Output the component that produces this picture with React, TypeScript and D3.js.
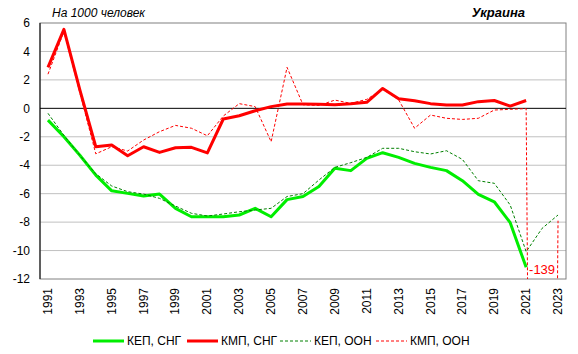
import { scaleBand, scaleLinear, line, range } from "d3";

const years = range(1991, 2024);
const yTicks = [-12, -10, -8, -6, -4, -2, 0, 2, 4, 6];

// КЕП, СНГ
const kepCis = [
  -0.83, -2.0, -3.3, -4.7, -5.8, -5.98, -6.17, -6.03, -7.03, -7.62, -7.62,
  -7.62, -7.5, -7.03, -7.62, -6.42, -6.2, -5.5, -4.22, -4.38, -3.52, -3.12,
  -3.45, -3.87, -4.15, -4.38, -5.09, -6.05, -6.57, -8.04, -11.18, null, null,
];
// КМП, СНГ
const kmpCis = [
  2.88, 5.55, 1.3, -2.7, -2.58, -3.33, -2.7, -3.1, -2.77, -2.74, -3.13, -0.75,
  -0.52, -0.17, 0.12, 0.3, 0.3, 0.28, 0.25, 0.32, 0.42, 1.4, 0.68, 0.54, 0.33,
  0.23, 0.23, 0.47, 0.55, 0.16, 0.55, null, null,
];
// КЕП, ООН
const kepUn = [
  -0.35, -1.9, -3.3, -4.6, -5.46, -5.86, -6.03, -6.33, -6.87, -7.38, -7.57,
  -7.43, -7.27, -7.15, -7.03, -6.2, -6.0, -5.04, -4.15, -3.82, -3.45, -2.81,
  -2.81, -3.05, -3.21, -2.98, -3.59, -5.09, -5.27, -6.8, -10.08, -8.44, -7.5,
];
// КМП, ООН
const kmpUn = [
  2.4, 5.4, 1.1, -3.2, -2.7, -3.0, -2.23, -1.64, -1.2, -1.4, -1.93, -0.54, 0.33,
  0.12, -2.35, 2.88, 0.25, 0.2, 0.58, 0.35, 0.63, 1.35, 0.6, -1.4, -0.47, -0.7,
  -0.78, -0.7, -0.12, -0.07, -0.02, -139, -7.9,
];

const series = [
  { name: "КЕП, СНГ", values: kepCis, color: "#00ee00", width: 3, dash: null },
  { name: "КМП, СНГ", values: kmpCis, color: "#ff0000", width: 3, dash: null },
  { name: "КЕП, ООН", values: kepUn, color: "#008000", width: 1, dash: "3,2" },
  { name: "КМП, ООН", values: kmpUn, color: "#ff0000", width: 1, dash: "3,2" },
];

const width = 578;
const height = 354;
const margin = { top: 23, right: 12, bottom: 75, left: 40 };
const font = "Arial, 'Liberation Sans', sans-serif";

const App = () => {
  const innerWidth = width - margin.left - margin.right;
  const innerHeight = height - margin.top - margin.bottom;

  const xScale = scaleBand<number>().domain(years).range([0, innerWidth]);
  const xc = (yr: number) => xScale(yr)! + xScale.bandwidth() / 2;
  const yScale = scaleLinear().domain([-12, 6]).range([innerHeight, 0]);

  const lineGen = line<[number, number | null]>()
    .defined((d) => d[1] !== null)
    .x((d) => xc(d[0]))
    .y((d) => yScale(d[1] as number));

  const legendX = [93, 187, 280, 376];
  const label139Year = 2022;

  return (
    <svg
      width={width}
      height={height}
      style={{ position: "absolute", left: 0, top: 0, background: "#fff" }}
      fontFamily={font}
    >
      <defs>
        <clipPath id="plot">
          <rect x={0} y={0} width={innerWidth} height={innerHeight} />
        </clipPath>
      </defs>
      <text x={52} y={17} fontSize={12} fontStyle="italic">
        На 1000 человек
      </text>
      <text x={525} y={17} fontSize={13} fontStyle="italic" fontWeight="bold" textAnchor="end">
        Украина
      </text>
      <g transform={`translate(${margin.left},${margin.top})`}>
        {yTicks.map((t) => (
          <g key={t} transform={`translate(0,${yScale(t)})`}>
            {t !== 0 && t !== -12 && t !== 6 && (
              <line x1={0} x2={innerWidth} stroke="#c0c0c0" strokeWidth={1} />
            )}
            <text x={-10} dy="0.35em" fontSize={12} textAnchor="end">
              {t}
            </text>
          </g>
        ))}
        <rect
          x={0}
          y={0}
          width={innerWidth}
          height={innerHeight}
          fill="none"
          stroke="#808080"
          strokeWidth={1}
        />
        <line x1={0} x2={innerWidth} y1={yScale(0)} y2={yScale(0)} stroke="#000" />
        <line x1={0} x2={0} y1={0} y2={innerHeight} stroke="#000" />
        {years
          .filter((yr) => (yr - 1991) % 2 === 0)
          .map((yr) => (
            <text
              key={yr}
              transform={`translate(${xc(yr) + 4},${innerHeight + 9}) rotate(-90)`}
              fontSize={12}
              textAnchor="end"
            >
              {yr}
            </text>
          ))}
        <g clipPath="url(#plot)">
          {series.map((s) => (
            <path
              key={s.name}
              d={lineGen(years.map((yr, i) => [yr, s.values[i]]))!}
              fill="none"
              stroke={s.color}
              strokeWidth={s.width}
              strokeDasharray={s.dash ?? undefined}
              strokeLinejoin="round"
            />
          ))}
        </g>
        <text
          x={xc(label139Year)}
          y={innerHeight - 5}
          fontSize={13}
          fill="#ff0000"
          textAnchor="middle"
        >
          {kmpUn[years.indexOf(label139Year)]}
        </text>
      </g>
      {series.map((s, i) => (
        <g key={s.name} transform={`translate(${legendX[i]},341)`}>
          <line
            x1={0}
            x2={31}
            stroke={s.color}
            strokeWidth={s.width}
            strokeDasharray={s.dash ?? undefined}
          />
          <text x={34} dy="0.35em" fontSize={12}>
            {s.name}
          </text>
        </g>
      ))}
    </svg>
  );
};

export default App;
